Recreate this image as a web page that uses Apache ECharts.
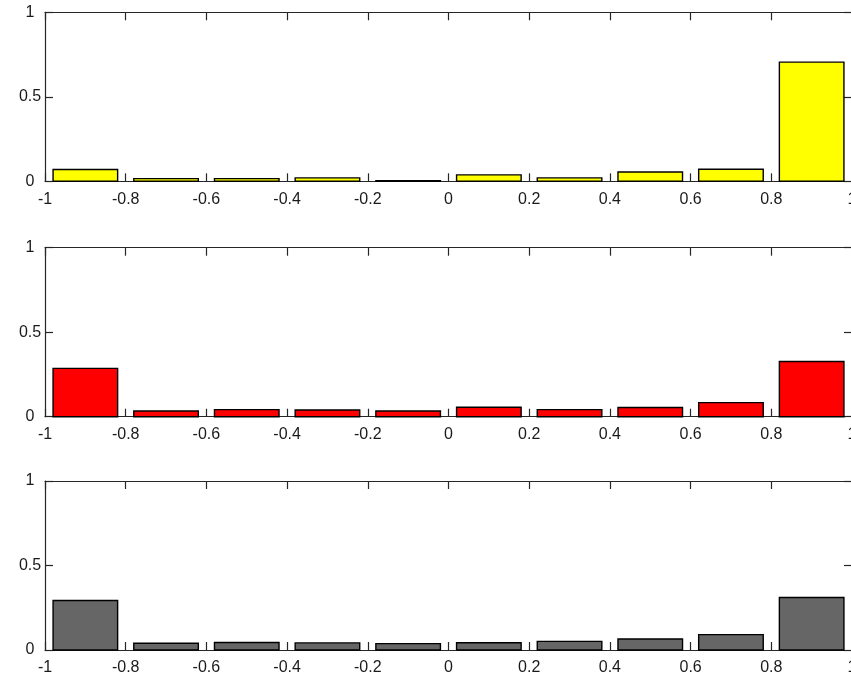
<!DOCTYPE html>
<html>
<head>
<meta charset="utf-8">
<script src="https://cdn.jsdelivr.net/npm/echarts@6/dist/echarts.min.js"></script>
<style>
  html, body { margin: 0; padding: 0; background: #ffffff; }
  #chart { width: 851px; height: 676px; }
</style>
</head>
<body>
<div id="chart"></div>
<script>
// Bin centres of the ten histogram bins over [-1, 1]
const binCenters = [-0.9, -0.7, -0.5, -0.3, -0.1, 0.1, 0.3, 0.5, 0.7, 0.9];

// Relative frequencies for each panel
const yellowValues = [0.07, 0.016, 0.016, 0.02, 0.004, 0.038, 0.02, 0.055, 0.071, 0.705];
const redValues    = [0.286, 0.034, 0.042, 0.04, 0.034, 0.056, 0.042, 0.054, 0.083, 0.327];
const grayValues   = [0.293, 0.04, 0.044, 0.042, 0.038, 0.043, 0.051, 0.065, 0.091, 0.311];

const panelColors = ['#ffff00', '#ff0000', '#666666'];
const panelValues = [yellowValues, redValues, grayValues];

// Axis tick positions
const xTicks = [-1, -0.8, -0.6, -0.4, -0.2, 0, 0.2, 0.4, 0.6, 0.8, 1];
const yTicks = [0, 0.5, 1];

const binWidth = 0.2;
const barFraction = 0.8;

const axisColor = '#262626';
const fontFamily = 'Liberation Sans, Arial, Helvetica, sans-serif';
const fmt = v => String(Math.round(v * 10) / 10);

const gridTops = [12.3, 247.7, 481];
const gridHeight = 169;

const grids = [], xAxes = [], yAxes = [], series = [];

gridTops.forEach((top, i) => {
  grids.push({ left: 45, top: top, width: 807, height: gridHeight, containLabel: false, outerBoundsMode: 'none' });

  const xBase = {
    gridIndex: i, type: 'value', min: xTicks[0], max: xTicks[xTicks.length - 1], interval: 0.2,
    axisLine: { show: true, onZero: false, lineStyle: { color: axisColor, width: 1.2 } },
    axisTick: { show: true, inside: true, length: 8, lineStyle: { color: axisColor, width: 1.2 } },
    splitLine: { show: false }
  };
  xAxes.push(Object.assign({}, xBase, {
    position: 'bottom',
    axisLabel: { show: true, margin: 10, color: '#1a1a1a', fontSize: 16, fontFamily: fontFamily, formatter: fmt, hideOverlap: false }
  }));
  xAxes.push(Object.assign({}, xBase, { position: 'top', axisLabel: { show: false } }));

  const yBase = {
    gridIndex: i, type: 'value', min: yTicks[0], max: yTicks[yTicks.length - 1], interval: 0.5,
    axisLine: { show: true, onZero: false, lineStyle: { color: axisColor, width: 1.2 } },
    axisTick: { show: true, inside: true, length: 8, lineStyle: { color: axisColor, width: 1.2 } },
    splitLine: { show: false }
  };
  yAxes.push(Object.assign({}, yBase, {
    position: 'left',
    axisLabel: { show: true, margin: 15, align: 'center', color: '#1a1a1a', fontSize: 16, fontFamily: fontFamily, formatter: fmt }
  }));
  yAxes.push(Object.assign({}, yBase, { position: 'right', axisLabel: { show: false } }));

  series.push({
    type: 'custom',
    xAxisIndex: i * 2,
    yAxisIndex: i * 2,
    data: binCenters.map((c, k) => [c, panelValues[i][k]]),
    encode: { x: 0, y: 1 },
    clip: false,
    renderItem: function (params, api) {
      const c = api.value(0);
      const v = api.value(1);
      const half = binWidth * barFraction / 2;
      const p0 = api.coord([c - half, v]);
      const p1 = api.coord([c + half, 0]);
      return {
        type: 'rect',
        shape: { x: p0[0], y: p0[1], width: p1[0] - p0[0], height: p1[1] - p0[1] },
        style: { fill: panelColors[i], stroke: '#000000', lineWidth: 1.4 }
      };
    },
    z: 3
  });
});

const chart = echarts.init(document.getElementById('chart'), null, { renderer: 'canvas' });
chart.setOption({
  animation: false,
  backgroundColor: '#ffffff',
  grid: grids,
  xAxis: xAxes,
  yAxis: yAxes,
  series: series
});
</script>
</body>
</html>
